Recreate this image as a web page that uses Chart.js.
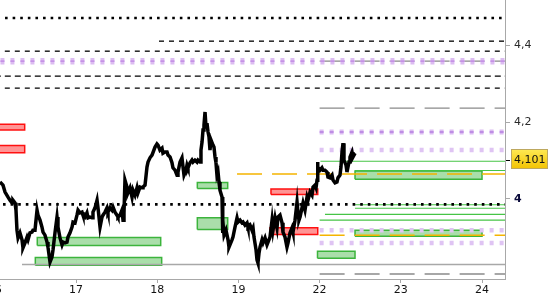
<!DOCTYPE html>
<html><head><meta charset="utf-8">
<script src="https://cdn.jsdelivr.net/npm/chart.js@4.4.1/dist/chart.umd.min.js"></script>
<style>html,body{margin:0;padding:0;background:#fff}#wrap{width:550px;height:300px;position:relative}</style>
</head><body><div id="wrap"><canvas id="c"></canvas></div>
<script>
// ---- data ----
const dayLabels = ['16','17','18','19','22','23','24'];      // trading days (weekend 20/21 skipped)
const yTickValues = [4.0, 4.101, 4.2, 4.4];
const lastPrice = 4.101;
const X_LEFT = -0.3, X_RIGHT = 6.6;                          // open-ended levels

// price: [trading-day position, price]
const pricePoints = [[0.064,4.044],[0.101,4.036],[0.126,4.018],[0.163,4.005],[0.187,3.997],[0.212,3.990],[0.224,3.997],[0.249,3.990],[0.261,3.971],[0.273,3.919],[0.286,3.899],[0.310,3.912],[0.335,3.894],[0.347,3.873],[0.372,3.886],[0.397,3.901],[0.409,3.894],[0.433,3.912],[0.458,3.914],[0.470,3.919],[0.495,3.919],[0.520,3.971],[0.532,3.958],[0.557,3.945],[0.581,3.927],[0.594,3.914],[0.618,3.906],[0.643,3.888],[0.655,3.875],[0.680,3.836],[0.704,3.849],[0.717,3.868],[0.741,3.912],[0.766,3.953],[0.778,3.927],[0.803,3.899],[0.828,3.881],[0.840,3.888],[0.864,3.886],[0.889,3.888],[0.901,3.901],[0.926,3.912],[0.951,3.927],[0.963,3.940],[0.988,3.938],[1.012,3.958],[1.025,3.971],[1.049,3.964],[1.074,3.966],[1.086,3.958],[1.111,3.953],[1.135,3.964],[1.148,3.951],[1.172,3.953],[1.197,3.951],[1.209,3.966],[1.234,3.977],[1.259,3.997],[1.271,3.977],[1.296,3.927],[1.320,3.953],[1.332,3.958],[1.357,3.966],[1.382,3.977],[1.394,3.966],[1.419,3.977],[1.443,3.971],[1.456,3.979],[1.480,3.966],[1.505,3.958],[1.517,3.953],[1.542,3.958],[1.566,3.971],[1.579,3.945],[1.591,3.964],[1.603,4.049],[1.628,4.031],[1.640,4.016],[1.665,4.029],[1.690,4.005],[1.702,4.023],[1.727,4.010],[1.751,4.029],[1.763,4.016],[1.788,4.031],[1.813,4.029],[1.825,4.031],[1.850,4.036],[1.874,4.083],[1.887,4.096],[1.911,4.107],[1.936,4.114],[1.948,4.114],[1.973,4.135],[1.997,4.143],[2.010,4.140],[2.034,4.127],[2.059,4.132],[2.071,4.119],[2.096,4.122],[2.121,4.122],[2.133,4.114],[2.158,4.109],[2.182,4.094],[2.194,4.081],[2.219,4.075],[2.244,4.062],[2.256,4.070],[2.281,4.096],[2.305,4.107],[2.318,4.083],[2.330,4.062],[2.355,4.075],[2.367,4.088],[2.379,4.081],[2.404,4.094],[2.428,4.101],[2.441,4.096],[2.465,4.101],[2.490,4.096],[2.502,4.101],[2.527,4.096],[2.539,4.127],[2.552,4.148],[2.564,4.179],[2.576,4.192],[2.589,4.226],[2.601,4.187],[2.613,4.197],[2.626,4.174],[2.638,4.161],[2.650,4.127],[2.663,4.153],[2.687,4.140],[2.699,4.135],[2.712,4.109],[2.724,4.094],[2.736,4.062],[2.749,4.070],[2.761,4.044],[2.773,4.023],[2.798,4.005],[2.804,3.912],[2.810,3.945],[2.823,3.906],[2.847,3.919],[2.872,3.894],[2.884,3.875],[2.921,3.894],[2.933,3.901],[2.958,3.927],[2.983,3.951],[2.995,3.940],[3.020,3.945],[3.044,3.938],[3.057,3.940],[3.081,3.932],[3.106,3.938],[3.118,3.927],[3.143,3.932],[3.167,3.919],[3.180,3.925],[3.192,3.901],[3.217,3.868],[3.229,3.842],[3.241,3.834],[3.254,3.860],[3.266,3.875],[3.291,3.894],[3.303,3.886],[3.328,3.899],[3.352,3.881],[3.365,3.888],[3.389,3.901],[3.414,3.945],[3.426,3.919],[3.451,3.951],[3.475,3.925],[3.487,3.953],[3.512,3.958],[3.537,3.938],[3.549,3.914],[3.574,3.901],[3.598,3.875],[3.611,3.886],[3.635,3.912],[3.660,3.925],[3.672,3.914],[3.697,3.945],[3.722,3.992],[3.734,3.964],[3.746,3.945],[3.759,3.953],[3.783,3.977],[3.796,3.990],[3.820,3.971],[3.845,4.005],[3.857,3.997],[3.882,4.018],[3.906,4.010],[3.919,4.031],[3.943,4.036],[3.956,4.029],[3.968,4.049],[3.974,4.096],[3.980,4.083],[4.005,4.075],[4.029,4.081],[4.042,4.075],[4.066,4.075],[4.091,4.070],[4.103,4.057],[4.128,4.055],[4.153,4.062],[4.165,4.049],[4.190,4.042],[4.214,4.044],[4.226,4.055],[4.251,4.062],[4.263,4.083],[4.276,4.122],[4.288,4.145],[4.300,4.101],[4.325,4.088],[4.337,4.070],[4.349,4.083],[4.362,4.096],[4.374,4.109],[4.399,4.122],[4.411,4.109],[4.436,4.119]];

// horizontal levels: value + start position (all run to the right edge)
const blackDottedValues = [4.470, 3.986];
const blackDottedStarts = [0.126, 0.101];
const blackDashedValues = [4.410, 4.384, 4.319, 4.288];
const blackDashedStarts = [2.022, 0.0, 0.0, 0.0];
const purpleStrongValues = [4.358, 4.174];
const purpleStrongStarts = [X_LEFT, 4.0];
const purpleLightValues = [4.127, 3.919, 3.886];
const purpleLightStarts = [4.0, 4.0, 4.0];
const grayDashedValues = [4.358, 4.236, 3.805];
const grayDashedStarts = [4.0, 4.0, 4.0];
const graySolidValues = [3.830];
const graySolidStarts = [0.335];
const greenLineValues = [4.098, 4.074, 3.985, 3.976, 3.960, 3.945];
const greenLineStarts = [4.01, 4.436, 4.436, 4.436, 4.066, 4.0];
const orangeValues = [4.065, 3.906];
const orangeStarts = [2.983, 4.0];

// zones: [from, to, low, high]
const greenZones = [
  [0.523, 2.043, 3.879, 3.900],
  [0.499, 2.055, 3.828, 3.848],
  [2.494, 2.868, 4.027, 4.043],
  [2.494, 2.868, 3.921, 3.951],
  [4.436, 6.000, 4.051, 4.073],
  [4.436, 6.000, 3.903, 3.919],
  [3.974, 4.436, 3.846, 3.864]
];
const redZones = [
  [X_LEFT, 0.368, 4.179, 4.194],
  [X_LEFT, 0.368, 4.120, 4.139],
  [3.401, 3.977, 4.012, 4.026],
  [3.389, 3.977, 3.908, 3.925]
];

// ---- build datasets ----
function hLine(v, x0, style){
  return Object.assign({data:[{x:x0,y:v},{x:X_RIGHT,y:v}], pointRadius:0, fill:false, tension:0}, style);
}
function zone(z, stroke, fillc){
  const [x0,x1,lo,hi] = z;
  return {data:[{x:x0,y:lo},{x:x1,y:lo},{x:x1,y:hi},{x:x0,y:hi},{x:x0,y:lo}],
    borderColor:stroke, backgroundColor:fillc, borderWidth:1.5, fill:'shape', pointRadius:0, tension:0};
}
const ds = [];
ds.push({data:pricePoints.map(p=>({x:p[0],y:p[1]})), borderColor:'#000', borderWidth:3.5, pointRadius:0, tension:0, fill:false, borderJoinStyle:'miter'});
blackDottedValues.forEach((v,i)=>ds.push(hLine(v,blackDottedStarts[i],{borderColor:'#000',borderWidth:2.6,borderDash:[2.6,5]})));
const bdDash = [[5,5],[5,5],[6,4],[5,5]];
blackDashedValues.forEach((v,i)=>ds.push(hLine(v,blackDashedStarts[i],{borderColor:'#000',borderWidth:1.3,borderDash:bdDash[i].slice()})));
orangeValues.forEach((v,i)=>ds.push(hLine(v,orangeStarts[i],{borderColor:'#f5b400',borderWidth:1.4,borderDash:[25,10]})));
greenLineValues.forEach((v,i)=>ds.push(hLine(v,greenLineStarts[i],{borderColor:'#46c446',borderWidth:1.2})));
const innerCol = ['#c592e6','#b47ddf'];
const outerW = [6.5, 5];
purpleStrongValues.forEach((v,i)=>{
  ds.push(hLine(v,purpleStrongStarts[i],{borderColor:innerCol[i],borderWidth:1.6,borderDash:[4,6]}));
  ds.push(hLine(v,purpleStrongStarts[i],{borderColor:'#dcbcf1',borderWidth:outerW[i],borderDash:[4,6]}));
});
purpleLightValues.forEach((v,i)=>ds.push(hLine(v,purpleLightStarts[i],{borderColor:'#dfc4f3',borderWidth:4.5,borderDash:[4,6]})));
grayDashedValues.forEach((v,i)=>ds.push(hLine(v,grayDashedStarts[i],{borderColor:'#8a8a8a',borderWidth:1.4,borderDash:[25,10]})));
graySolidValues.forEach((v,i)=>ds.push(hLine(v,graySolidStarts[i],{borderColor:'#a8a8a8',borderWidth:1.4})));
redZones.forEach(z=>ds.push(zone(z,'#ff1010','rgba(255,60,60,0.55)')));
greenZones.forEach(z=>ds.push(zone(z,'#3cb43c','rgba(100,195,100,0.55)')));

const lastPriceBox = {
  id:'lastPriceBox',
  beforeDraw(chart){
    const ys = chart.scales.y, ctx = chart.ctx;
    const py = Math.round(ys.getPixelForValue(lastPrice));
    const x0 = ys.left + 6, x1 = chart.width - 2;
    const g = ctx.createLinearGradient(0, py-11, 0, py+9);
    g.addColorStop(0,'#ffea55'); g.addColorStop(1,'#f2c200');
    ctx.save();
    ctx.fillStyle = g; ctx.fillRect(x0, py-11, x1-x0, 20);
    ctx.strokeStyle = '#bda860'; ctx.lineWidth = 1;
    ctx.strokeRect(x0+0.5, py-10.5, x1-x0-1, 19);
    ctx.restore();
  }
};

const FONT = 'DejaVu Sans';
new Chart(document.getElementById('c'), {
  type:'line',
  data:{datasets:ds},
  plugins:[lastPriceBox],
  options:{
    responsive:true, maintainAspectRatio:false, animation:false,
    layout:{padding:0},
    plugins:{legend:{display:false}, tooltip:{enabled:false}},
    elements:{point:{radius:0}},
    scales:{
      x:{
        type:'linear', position:'bottom', min:0.064, max:6.283,
        afterBuildTicks:(s)=>{ s.ticks = dayLabels.map((_,i)=>({value:i})); },
        afterFit:(s)=>{ s.height = 21; s.paddingLeft = 0; s.paddingRight = 0; },
        ticks:{autoSkip:false, maxRotation:0, padding:1, color:'#111', font:{family:FONT,size:11},
          callback:(v)=>dayLabels[Math.round(v)]},
        grid:{drawOnChartArea:false, drawTicks:true, tickLength:4, color:'#a8a8a8'},
        border:{display:true, color:'#a8a8a8', width:1}
      },
      y:{
        type:'linear', position:'right', min:3.7922, max:4.5169,
        afterBuildTicks:(s)=>{ s.ticks = yTickValues.map(v=>({value:v})); },
        afterFit:(s)=>{ s.width = 45; s.paddingTop = 0; s.paddingBottom = 0; },
        ticks:{autoSkip:false, padding:4,
          color:(c)=> c.tick && c.tick.value===4 ? '#0a0a3a' : (c.tick && c.tick.value===lastPrice ? '#111' : '#2a2a2a'),
          font:(c)=> ({family:FONT, size:11, weight: (c.tick && c.tick.value===4) ? 'bold' : 'normal'}),
          callback:(v)=> String(v).replace('.', ',')},
        grid:{drawOnChartArea:false, drawTicks:true, tickLength:5,
          color:(c)=> c.tick && c.tick.value===lastPrice ? '#000' : '#a8a8a8'},
        border:{display:true, color:'#a8a8a8', width:1}
      }
    }
  }
});
</script></body></html>
